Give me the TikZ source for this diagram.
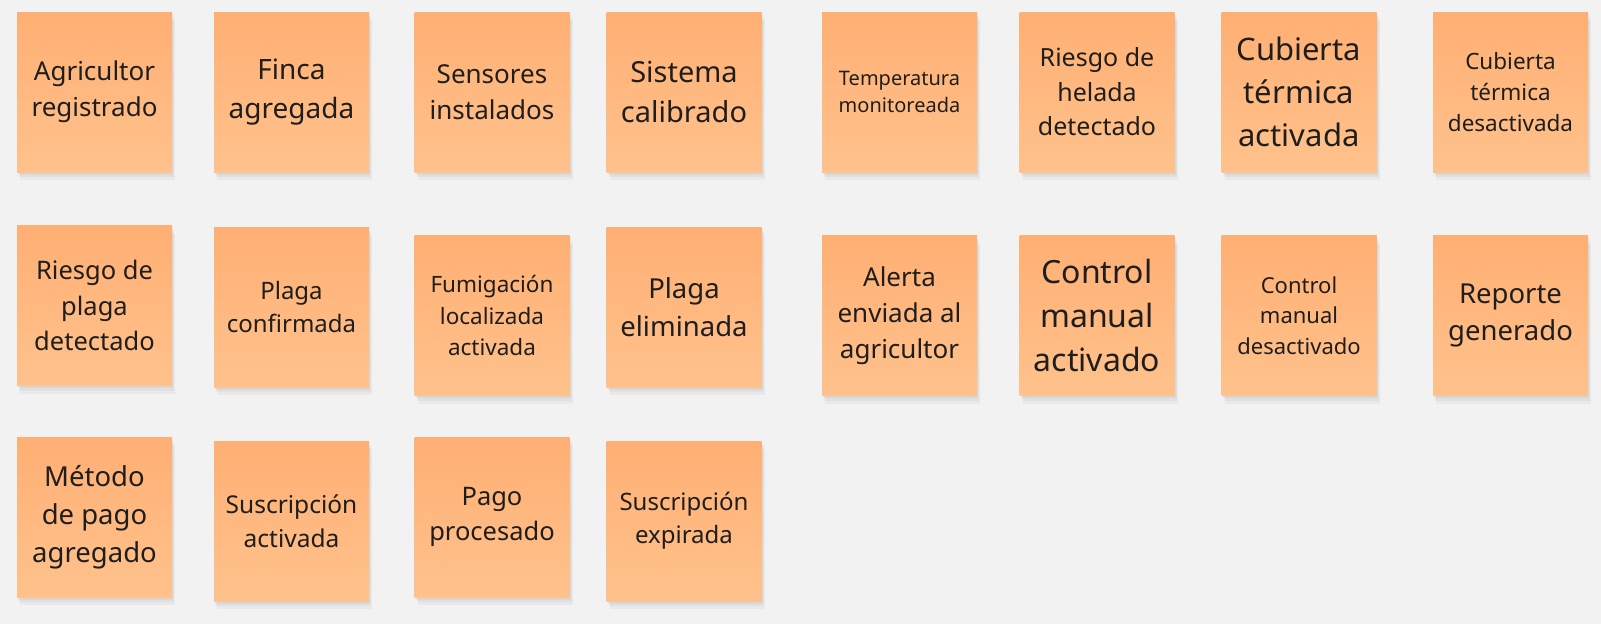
\documentclass[tikz,border=0pt]{standalone}
\usepackage{fontspec}
\setmainfont{Noto Sans}
\usetikzlibrary{shadows}
\definecolor{board}{HTML}{F2F2F2}
\definecolor{notetop}{HTML}{FFAF73}
\definecolor{notebot}{HTML}{FFC28C}
\definecolor{ink}{HTML}{1E1E1E}
\newcommand{\fs}[1]{\fontsize{#1pt}{\dimexpr #1pt*138/100\relax}\selectfont}
\tikzset{
    sticky/.style={rectangle, minimum width=155, minimum height=160,
        inner sep=0pt, align=center, text=ink, top color=notetop,
        bottom color=notebot, draw=none,
        general shadow={fill=black, opacity=0.035, shadow xshift=3pt, shadow yshift=-8pt},
        general shadow={fill=black, opacity=0.035, shadow xshift=2pt, shadow yshift=-5pt},
        general shadow={fill=black, opacity=0.04, shadow xshift=1pt, shadow yshift=-2.5pt}},
}

\begin{document}
\begin{tikzpicture}[x=1pt, y=-1pt]
    \fill[board] (0,0) rectangle (1601,624);
    \useasboundingbox (0,0) rectangle (1601,624);

    \node[sticky, font=\fs{26}] (agricultor) at (94.5,92) {Agricultor\\registrado};
    \node[sticky, font=\fs{28}] (finca) at (291.5,92) {Finca\\agregada};
    \node[sticky, font=\fs{26}] (sensores) at (492,92) {Sensores\\instalados};
    \node[sticky, font=\fs{29}] (sistema) at (684,92) {Sistema\\calibrado};
    \node[sticky, font=\fs{20}] (temperatura) at (899.5,92) {Temperatura\\monitoreada};
    \node[sticky, font=\fs{25}] (helada) at (1097,92) {Riesgo de\\helada\\detectado};
    \node[sticky, font=\fs{31}] (cubiertaon) at (1299,92) {Cubierta\\térmica\\activada};
    \node[sticky, font=\fs{22.5}] (cubiertaoff) at (1510.5,92) {Cubierta\\térmica\\desactivada};

    \node[sticky, font=\fs{25.5}] (plaga) at (94.5,305.5) {Riesgo de\\plaga\\detectado};
    \node[sticky, font=\fs{24}] (confirmada) at (291.5,307) {Plaga\\confirmada};
    \node[sticky, font=\fs{22.5}] (fumigacion) at (492,315.5) {Fumigación\\localizada\\activada};
    \node[sticky, font=\fs{27.5}] (eliminada) at (684,307) {Plaga\\eliminada};
    \node[sticky, font=\fs{26}] (alerta) at (899.5,315.5) {Alerta\\enviada al\\agricultor};
    \node[sticky, font=\fs{32}] (manualon) at (1097,315.5) {Control\\manual\\activado};
    \node[sticky, font=\fs{22}] (manualoff) at (1299,315.5) {Control\\manual\\desactivado};
    \node[sticky, font=\fs{27.5}] (reporte) at (1510.5,315.5) {Reporte\\generado};

    \node[sticky, font=\fs{27.5}] (metodo) at (94.5,517) {Método\\de pago\\agregado};
    \node[sticky, font=\fs{24.5}] (suscripcion) at (291.5,521) {Suscripción\\activada};
    \node[sticky, font=\fs{25.5}] (pago) at (492,517) {Pago\\procesado};
    \node[sticky, font=\fs{24}] (expirada) at (684,521) {Suscripción\\expirada};
\end{tikzpicture}
\end{document}
